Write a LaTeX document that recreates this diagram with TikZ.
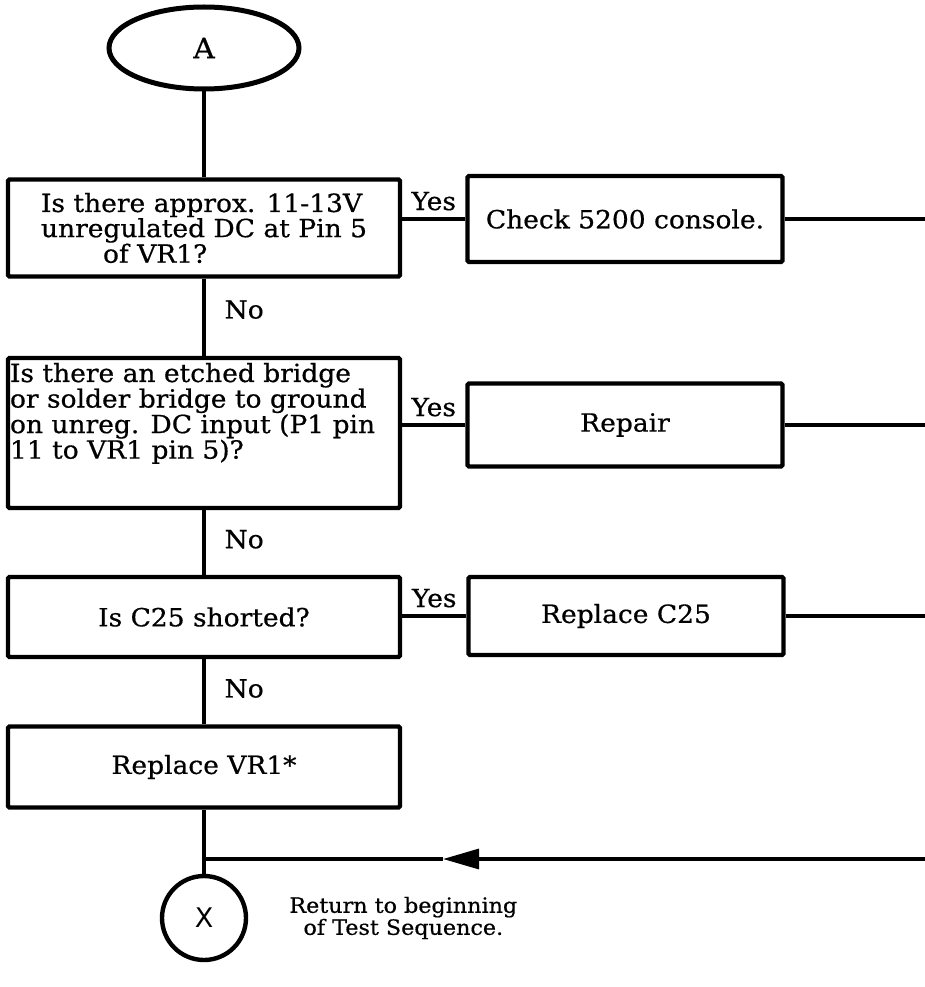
\documentclass[tikz,border=0pt]{standalone}
\usepackage{fontspec}
\setmainfont{DejaVu Serif}[FakeStretch=1.06, FakeBold=0.6]
\setsansfont{DejaVu Sans}
\usetikzlibrary{shapes.geometric, arrows.meta, positioning}

\begin{document}
\begin{tikzpicture}[x=1pt, y=-1pt,
                box/.style={rectangle, draw, line width=4.4pt, rounded corners=1.5pt, minimum width=392pt, inner xsep=2pt, inner ysep=2pt, font=\fontsize{25}{23}\selectfont, align=center},
                sidebox/.style={box, minimum width=315pt},
                conn/.style={line width=3.2pt},
                lbl/.style={font=\fontsize{25}{23}\selectfont, inner sep=3pt}]
                \useasboundingbox (0,0) rectangle (925,987);
                \coordinate (edge) at (925,0);
                \node[ellipse, draw, line width=5pt, minimum width=190pt, minimum height=82pt, font=\fontsize{28}{23}\selectfont] (start) at (204,48) {A};
                \node[box, minimum height=97pt, align=left] (q1) at (204,228) {Is there approx. 11-13V\\unregulated DC at Pin 5\\\hspace*{62pt}of VR1?};
                \node[box, minimum height=150pt] (q2) at (204,433) {\parbox[t][140pt][t]{388pt}{\raggedright Is there an etched bridge\\or solder bridge to ground\\on unreg. DC input (P1 pin\\11 to VR1 pin 5)?}};
                \node[box, minimum height=80pt] (q3) at (204,617) {Is C25 shorted?};
                \node[box, minimum height=81pt] (rv) at (204,767) {Replace VR1*};
                \node[sidebox, minimum height=86pt] (c1) at (625,219) {Check 5200 console.};
                \node[sidebox, minimum height=83pt] (c2) at (625,425) {Repair};
                \node[sidebox, minimum height=78pt] (c3) at (626,616) {Replace C25};
                \node[circle, draw, line width=4.4pt, minimum size=84pt, font=\sffamily\fontsize{27}{22}\selectfont] (xend) at (204,918) {X};
                \node[lbl, align=center, right=38pt of xend, font=\fontsize{21}{22}\selectfont] (ret) {Return to beginning\\of Test Sequence.};
                \coordinate (jx) at (204,859);
                \coordinate (tip) at (443,859);

                % main column
                \draw[conn] (start) -- (q1);
                \draw[conn] (q1) -- node[lbl, right=16pt, pos=0.4] {No} (q2);
                \draw[conn] (q2) -- node[lbl, right=16pt, pos=0.45] {No} (q3);
                \draw[conn] (q3) -- node[lbl, right=16pt, pos=0.45] {No} (rv);
                \draw[conn] (rv) -- (xend);

                % yes branches
                \draw[conn] (q1.east |- c1.west) -- node[lbl, above=4pt] {Yes} (c1.west);
                \draw[conn] (q2.east |- c2.west) -- node[lbl, above=4pt] {Yes} (c2.west);
                \draw[conn] (q3.east |- c3.west) -- node[lbl, above=4pt] {Yes} (c3.west);
                \draw[conn] (c1.east) -- (c1.east -| edge);
                \draw[conn] (c2.east) -- (c2.east -| edge);
                \draw[conn] (c3.east) -- (c3.east -| edge);

                % return line
                \draw[conn, -{Triangle[length=36pt, width=20pt]}] (edge |- jx) -- (tip);
                \draw[conn] (tip) -- (jx);
            \end{tikzpicture}
\end{document}
